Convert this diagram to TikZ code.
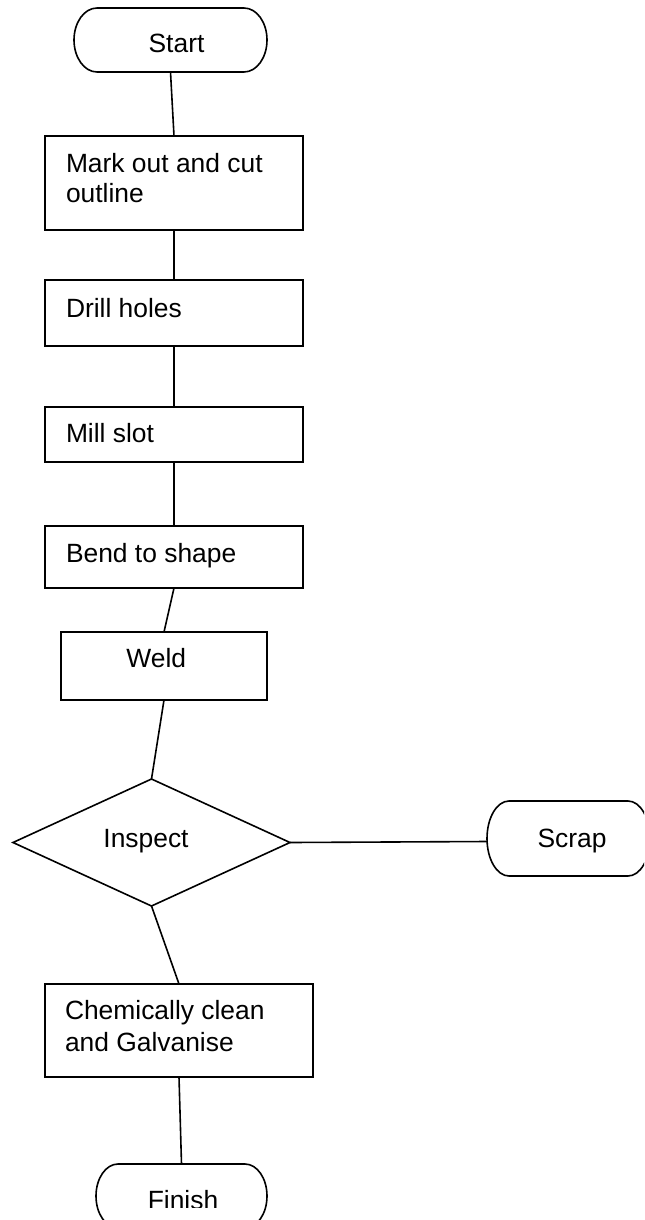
\documentclass[tikz,border=0pt]{standalone}
\usepackage{fontspec}
\setmainfont{Liberation Sans}
\usetikzlibrary{calc}
\def\u{0.75pt}
\tikzset{
  line/.style={draw=black, line width=1.2pt},
  frame/.style={rectangle, inner sep=0pt, outer sep=0pt},
  stepbox/.style={frame, line},
  lbl/.style={inner sep=0pt, outer sep=0pt, font=\fontsize{19.8pt}{22.5pt}\selectfont, text=black},
}
\newcommand\termoutline[3]{% node, rx, ry
  \draw[line] ($(#1.north west)+(#2,0)$) -- ($(#1.north east)-(#2,0)$)
    arc[start angle=90, end angle=-90, x radius=#2, y radius=#3]
    -- ($(#1.south west)+(#2,0)$)
    arc[start angle=270, end angle=90, x radius=#2, y radius=#3] -- cycle;}
\begin{document}
\begin{tikzpicture}[x=0.75pt, y=0.75pt]
\useasboundingbox (0,0) rectangle (644,-1220);
\clip (0,0) rectangle (644,-1220);
\fill[white] (0,0) rectangle (644,-1220);

% terminals
\node[frame, minimum width=193*\u, minimum height=64*\u] (start) at (170.5,-40) {};
\termoutline{start}{23}{32}
\node[lbl, anchor=base] (startt) at (176.5,-53) {Start};

% process boxes
\node[stepbox, minimum width=258*\u, minimum height=94*\u] (b1) at (174,-183) {};
\node[lbl, anchor=base west, align=left] (b1t) at (66,-202) {Mark out and cut\\outline};

\node[stepbox, minimum width=258*\u, minimum height=66*\u] (b2) at (174,-313) {};
\node[lbl, anchor=base west] (b2t) at (66,-317) {Drill holes};

\node[stepbox, minimum width=258*\u, minimum height=55*\u] (b3) at (174,-434.5) {};
\node[lbl, anchor=base west] (b3t) at (66,-442) {Mill slot};

\node[stepbox, minimum width=258*\u, minimum height=62*\u] (b4) at (174,-557) {};
\node[lbl, anchor=base west] (b4t) at (66,-562) {Bend to shape};

\node[stepbox, minimum width=206*\u, minimum height=68*\u] (weld) at (164,-666) {};
\node[lbl, anchor=base] (weldt) at (156.3,-667) {Weld};

% decision
\node[frame, minimum width=277*\u, minimum height=127*\u] (d) at (151.5,-842.5) {};
\draw[line] (d.north) -- (d.east) -- (d.south) -- (d.west) -- cycle;
\node[lbl, anchor=base] (dt) at (146,-847) {Inspect};

\node[frame, minimum width=163*\u, minimum height=75*\u] (scrap) at (568.5,-838.5) {};
\termoutline{scrap}{22}{37.5}
\node[lbl, anchor=base] (scrapt) at (572,-847) {Scrap};

\node[stepbox, minimum width=268*\u, minimum height=93*\u] (b5) at (179,-1030.5) {};
\node[lbl, anchor=base west, align=left, font=\fontsize{19.8pt}{23.7pt}\selectfont] (b5t) at (65,-1051) {Chemically clean\\and Galvanise};

\node[frame, minimum width=171*\u, minimum height=64*\u] (finish) at (181.5,-1196) {};
\termoutline{finish}{22}{32}
\begin{scope}
\clip (0,0) rectangle (644,-1207);
\node[lbl, anchor=base] (finisht) at (183,-1209) {Finish};
\end{scope}

% connectors
\draw[line] (start.south) -- (b1.north);
\draw[line] (b1.south) -- (b2.north);
\draw[line] (b2.south) -- (b3.north);
\draw[line] (b3.south) -- (b4.north);
\draw[line] (b4.south) -- (weld.north);
\draw[line] (weld.south) -- (d.north);
\draw[line] (d.east) -- ([yshift=-2.25pt]scrap.west);
\draw[line] (d.south) -- (b5.north);
\draw[line] (b5.south) -- (finish.north);
\end{tikzpicture}
\end{document}
